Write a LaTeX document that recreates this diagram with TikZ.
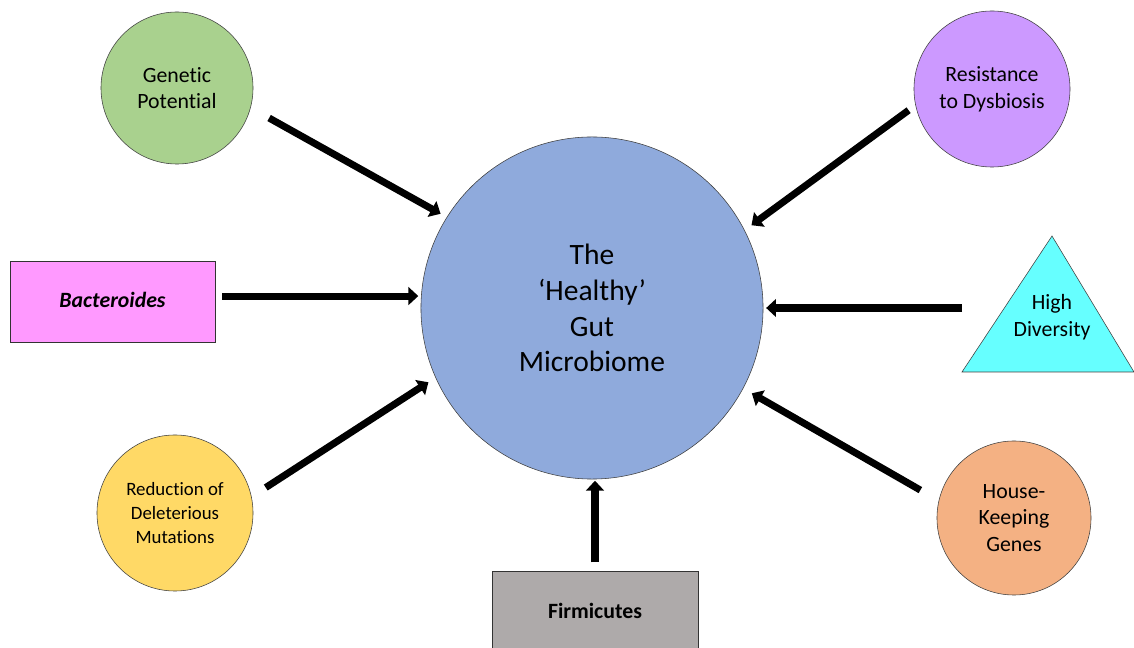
\documentclass[tikz,border=0pt]{standalone}
\usepackage{fontspec}
\setmainfont{Carlito}[Ligatures={NoCommon}]
\usepackage{xcolor}
\usetikzlibrary{arrows.meta}

\definecolor{gutblue}{HTML}{8FAADC}
\definecolor{genegreen}{HTML}{A9D18E}
\definecolor{resviolet}{HTML}{CC99FF}
\definecolor{bactpink}{HTML}{FF99FF}
\definecolor{divcyan}{HTML}{66FFFF}
\definecolor{redyellow}{HTML}{FFD966}
\definecolor{houseorange}{HTML}{F4B183}
\definecolor{firmgrey}{HTML}{AEAAAA}

\begin{document}
\begin{tikzpicture}[
  x=0.025cm, y=-0.025cm,
  bubble/.style={circle, draw=black!75, thin, align=center, inner sep=0pt,
    font=\fontsize{15.5}{19}\selectfont},
  box/.style={rectangle, draw=black!80, thin, align=center,
    font=\fontsize{15.5}{19}\selectfont\bfseries},
  flow/.style={-{Triangle[length=7pt,width=12.5pt]}, line width=5pt}
]
\useasboundingbox (0,0) rectangle (1134,648);
\clip (0,0) rectangle (1134,648);

% centre
\node[bubble, fill=gutblue, minimum size=8.55cm,
  font=\fontsize{21}{25.5}\selectfont] (gut) at (592,308)
  {The\\‘Healthy’\\Gut\\Microbiome};

% left side
\node[bubble, fill=genegreen, minimum size=3.8cm] (genetic) at (177,88)
  {Genetic\\Potential};
\node[box, fill=bactpink, minimum width=5.125cm, minimum height=2.025cm]
  (bact) at (112.5,301.5) {\raisebox{2.5pt}{\itshape Bacteroides}};
\node[bubble, fill=redyellow, minimum size=3.9cm,
  font=\fontsize{13.4}{17}\selectfont] (reduce) at (175,513)
  {Reduction of\\Deleterious\\Mutations};

% bottom
\node[box, fill=firmgrey, minimum width=5.15cm, minimum height=2.05cm]
  (firm) at (595,612) {\raisebox{2pt}{Firmicutes}};

% right side
\node[bubble, fill=resviolet, minimum size=3.9cm] (resist) at (992,89)
  {Resistance\\to Dysbiosis};
\draw[draw=black!75, thin, fill=divcyan]
  (1052,236) coordinate (hdtop) -- (1134,372) -- (962,372) coordinate (hdleft) -- cycle;
\node[align=center, font=\fontsize{15.5}{19}\selectfont] (hdiv) at (1052,317)
  {High\\Diversity};
\node[bubble, fill=houseorange, minimum size=3.85cm] (house) at (1014,518)
  {House-\\Keeping\\Genes};

% arrows into the centre
\draw[flow, shorten <=15pt, shorten >=5pt] (genetic.345) -- (gut.148);
\draw[flow, shorten <=5pt, shorten >=2pt] (bact.east |- gut.176) -- (gut.176);
\draw[flow, shorten <=12pt, shorten >=6pt] (reduce.12) -- (gut.204);
\draw[flow, shorten <=6pt, shorten >=1pt] (firm.north) -- (firm.north |- gut.south);
\draw[flow, shorten <=6pt, shorten >=6pt] (resist.192) -- (gut.27);
\draw[flow, shorten >=2pt] (hdleft |- gut.east) -- (gut.east);
\draw[flow, shorten <=15pt, shorten >=7pt] (house.167) -- (gut.332);
\end{tikzpicture}
\end{document}
